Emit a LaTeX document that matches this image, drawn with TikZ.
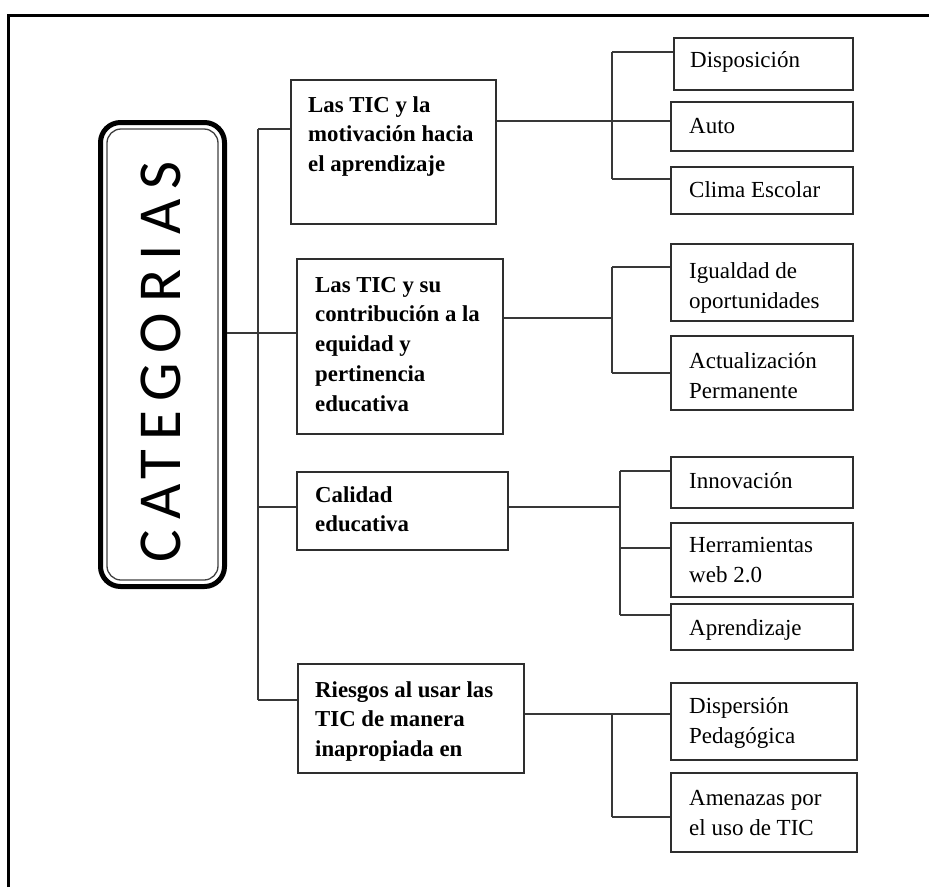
\documentclass[tikz,border=0pt]{standalone}
\usepackage{fontspec}
\setmainfont{Liberation Serif}
\newfontfamily\catfont{Carlito}[LetterSpace=16]
\usetikzlibrary{calc}
\newcommand\st{\rule{0pt}{16pt}}
\begin{document}
\begin{tikzpicture}[x=1pt,y=-1pt,
  conn/.style={draw=black!78, line width=1.5pt},
  box/.style={draw=black!82, line width=1.8pt, rectangle, inner sep=0pt, anchor=north west},
  boldtxt/.style={anchor=north west, inner sep=0pt, align=left, font=\fontsize{22.8}{29.7}\selectfont\bfseries},
  regtxt/.style={anchor=north west, inner sep=0pt, align=left, font=\fontsize{23}{30.5}\selectfont},
]
\useasboundingbox (0,0) rectangle (929,887);
% frame (top and left sides)
\coordinate (fbl) at (8,887);
\coordinate (ftl) at (8,15);
\coordinate (ftr) at (929,15);
\draw[line width=3pt] (fbl) -- (ftl) -- (ftr);

% CATEGORIAS box
\node[draw=black, line width=5pt, rounded corners=20pt, minimum width=124pt, minimum height=464pt, inner sep=0pt, anchor=north west] (cat) at (98,120) {};
\node[draw=black!75, line width=1.3pt, rounded corners=14pt, minimum width=111pt, minimum height=451pt, inner sep=0pt] (catin) at (cat.center) {};
\node[rotate=90, inner sep=0pt] (cattext) at (161,362) {\catfont\fontsize{61}{61}\selectfont CATEGORIAS};

% category boxes
\node[box, minimum width=205pt, minimum height=144pt] (b1) at (290,79) {};
\node[box, minimum width=206pt, minimum height=175pt] (b2) at (296,258) {};
\node[box, minimum width=211pt, minimum height=78pt]  (b3) at (296,471) {};
\node[box, minimum width=226pt, minimum height=109pt] (b4) at (297,663) {};

\node[boldtxt] (b1t) at (308,96)  {\st Las TIC y la\\motivación hacia\\el aprendizaje};
\node[boldtxt] (b2t) at (315,276) {\st Las TIC y su\\contribución a la\\equidad y\\pertinencia\\educativa};
\node[boldtxt] (b3t) at (315,486) {\st Calidad\\educativa};
\node[boldtxt] (b4t) at (315,681) {\st Riesgos al usar las\\TIC de manera\\inapropiada en};

% sub-category boxes
\node[box, minimum width=179pt, minimum height=52pt] (r11) at (673,37) {};
\node[box, minimum width=182pt, minimum height=49pt] (r12) at (670,101) {};
\node[box, minimum width=182pt, minimum height=47pt] (r13) at (670,166) {};
\node[box, minimum width=182pt, minimum height=77pt] (r21) at (670,243) {};
\node[box, minimum width=182pt, minimum height=74pt] (r22) at (670,335) {};
\node[box, minimum width=182pt, minimum height=51pt] (r31) at (670,456) {};
\node[box, minimum width=182pt, minimum height=74pt] (r32) at (670,522) {};
\node[box, minimum width=182pt, minimum height=46pt] (r33) at (670,603) {};
\node[box, minimum width=186pt, minimum height=77pt] (r41) at (670,682) {};
\node[box, minimum width=186pt, minimum height=79pt] (r42) at (670,772) {};

\node[regtxt] (r11t) at (690,51)  {\st Disposición};
\node[regtxt] (r12t) at (689,117) {\st Auto};
\node[regtxt] (r13t) at (689,181) {\st Clima Escolar};
\node[regtxt] (r21t) at (689,262) {\st Igualdad de\\oportunidades};
\node[regtxt] (r22t) at (689,352) {\st Actualización\\Permanente};
\node[regtxt] (r31t) at (689,472) {\st Innovación};
\node[regtxt] (r32t) at (689,536) {\st Herramientas\\web 2.0};
\node[regtxt] (r33t) at (689,619) {\st Aprendizaje};
\node[regtxt] (r41t) at (689,697) {\st Dispersión\\Pedagógica};
\node[regtxt] (r42t) at (689,789) {\st Amenazas por\\el uso de TIC};

% main spine
\coordinate (s1) at (258,129);
\coordinate (s3) at (258,507);
\coordinate (s4) at (258,700);
\coordinate (h2) at (258,333);
\draw[conn] (s1) -- (s4);
\draw[conn] (s1) -- (b1.west |- s1);
\draw[conn] (cat.east |- h2) -- (b2.west |- h2);
\draw[conn] (s3) -- (b3.west |- s3);
\draw[conn] (s4) -- (b4.west |- s4);

% group 1
\coordinate (g1a) at (612,52);
\coordinate (g1m) at (612,121);
\coordinate (g1b) at (612,179);
\draw[conn] (g1a) -- (g1b);
\draw[conn] (g1a) -- (r11.west |- g1a);
\draw[conn] (g1b) -- (r13.west |- g1b);
\draw[conn] (b1.east |- g1m) -- (r12.west |- g1m);

% group 2
\coordinate (g2a) at (612,267);
\coordinate (g2m) at (612,318);
\coordinate (g2b) at (612,373);
\draw[conn] (g2a) -- (g2b);
\draw[conn] (g2a) -- (r21.west |- g2a);
\draw[conn] (g2b) -- (r22.west |- g2b);
\draw[conn] (b2.east |- g2m) -- (g2m);

% group 3
\coordinate (g3a) at (620,471);
\coordinate (g3m) at (620,507);
\coordinate (g3c) at (620,548);
\coordinate (g3b) at (620,615);
\draw[conn] (g3a) -- (g3b);
\draw[conn] (g3a) -- (r31.west |- g3a);
\draw[conn] (g3c) -- (r32.west |- g3c);
\draw[conn] (g3b) -- (r33.west |- g3b);
\draw[conn] (b3.east |- g3m) -- (g3m);

% group 4
\coordinate (g4a) at (612,714);
\coordinate (g4b) at (612,817);
\draw[conn] (b4.east |- g4a) -- (r41.west |- g4a);
\draw[conn] (g4a) -- (g4b);
\draw[conn] (g4b) -- (r42.west |- g4b);
\end{tikzpicture}
\end{document}
